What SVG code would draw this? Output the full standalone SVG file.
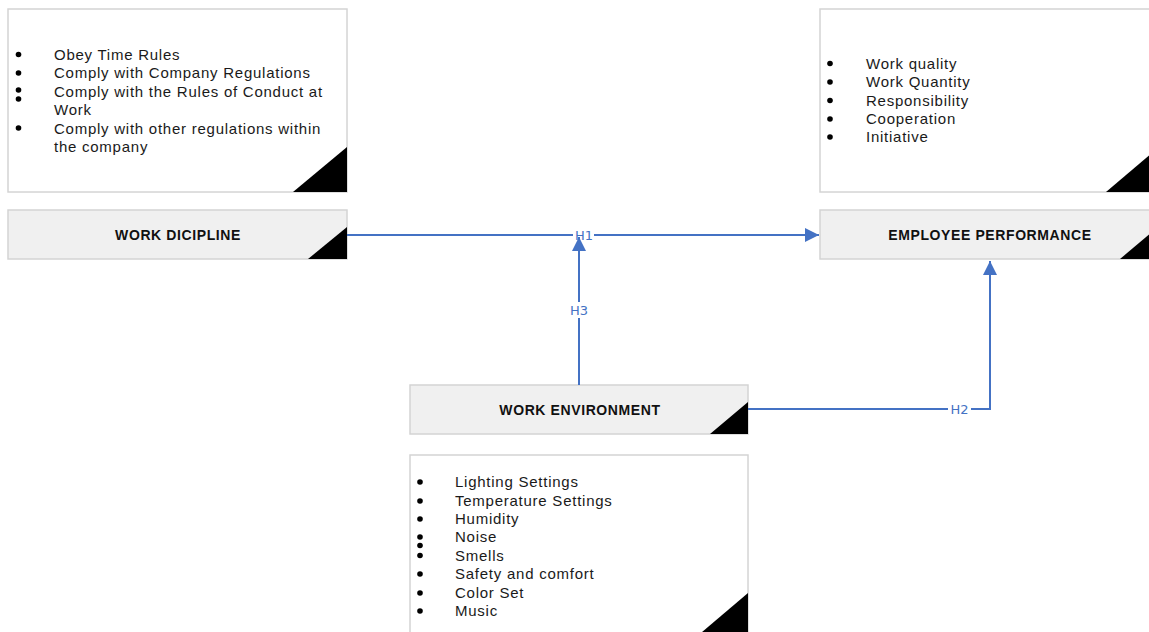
<svg xmlns="http://www.w3.org/2000/svg" width="1149" height="632" viewBox="0 0 1149 632">
<style>
.box{fill:#ffffff;stroke:#d4d4d4;stroke-width:1.5}
.hdr{fill:#f0f0f0;stroke:#d4d4d4;stroke-width:1.5}
.tri{fill:#000000}
.item{font-family:"Liberation Sans",Arial,sans-serif;font-size:15px;letter-spacing:0.75px;fill:#1a1a1a}
.title{font-family:"Liberation Sans",Arial,sans-serif;font-size:14px;font-weight:bold;letter-spacing:0.6px;fill:#111111;text-anchor:middle}
.dot{fill:#000000}
.conn{stroke:#4472c4;stroke-width:2;fill:none}
.lbl{font-family:"DejaVu Sans",Verdana,sans-serif;font-size:13px;fill:#4472c4;text-anchor:middle}
.lblbg{fill:#ffffff}
</style>
<defs>
<marker id="arr" viewBox="0 0 10 10" refX="10" refY="5" markerWidth="8" markerHeight="7" markerUnits="strokeWidth" orient="auto">
<path d="M0,0 L10,5 L0,10 Z" fill="#4472c4"/>
</marker>
</defs>

<g id="discipline-indicators">
<rect class="box" x="8" y="9" width="339" height="183"/>
<polygon class="tri" points="347,147 347,192 293,192"/>
<circle class="dot" cx="18.5" cy="54.5" r="2.8"/>
<circle class="dot" cx="18.5" cy="73" r="2.8"/>
<circle class="dot" cx="18.5" cy="90" r="2.8"/>
<circle class="dot" cx="18.5" cy="99" r="2.8"/>
<circle class="dot" cx="18.5" cy="128" r="2.8"/>
<text class="item" x="54" y="59.5">Obey Time Rules</text>
<text class="item" x="54" y="78">Comply with Company Regulations</text>
<text class="item" x="54" y="96.5">Comply with the Rules of Conduct at</text>
<text class="item" x="54" y="115">Work</text>
<text class="item" x="54" y="133.5">Comply with other regulations within</text>
<text class="item" x="54" y="152">the company</text>
</g>

<g id="work-discipline">
<rect class="hdr" x="8" y="210" width="339" height="49"/>
<polygon class="tri" points="347,227 347,259 308,259"/>
<text class="title" x="178" y="240">WORK DICIPLINE</text>
</g>

<g id="performance-indicators">
<rect class="box" x="820" y="9" width="339" height="183"/>
<polygon class="tri" points="1159,147 1159,192 1106,192"/>
<circle class="dot" cx="830" cy="63.5" r="2.8"/>
<circle class="dot" cx="830" cy="82" r="2.8"/>
<circle class="dot" cx="830" cy="100.5" r="2.8"/>
<circle class="dot" cx="830" cy="119" r="2.8"/>
<circle class="dot" cx="830" cy="137" r="2.8"/>
<text class="item" x="866" y="68.5">Work quality</text>
<text class="item" x="866" y="87">Work Quantity</text>
<text class="item" x="866" y="105.5">Responsibility</text>
<text class="item" x="866" y="124">Cooperation</text>
<text class="item" x="866" y="142">Initiative</text>
</g>

<g id="employee-performance">
<rect class="hdr" x="820" y="210" width="339" height="49"/>
<polygon class="tri" points="1159,226 1159,259 1120,259"/>
<text class="title" x="990" y="240">EMPLOYEE PERFORMANCE</text>
</g>

<g id="work-environment">
<rect class="hdr" x="410" y="385" width="338" height="49"/>
<polygon class="tri" points="748,402 748,434 710,434"/>
<text class="title" x="580" y="414.5">WORK ENVIRONMENT</text>
</g>

<g id="environment-indicators">
<rect class="box" x="410" y="455" width="338" height="183"/>
<polygon class="tri" points="748,593 748,638 695,638"/>
<circle class="dot" cx="420" cy="482" r="2.8"/>
<circle class="dot" cx="420" cy="501" r="2.8"/>
<circle class="dot" cx="420" cy="519" r="2.8"/>
<circle class="dot" cx="420" cy="537" r="2.8"/>
<circle class="dot" cx="420" cy="545.5" r="2.8"/>
<circle class="dot" cx="420" cy="555.5" r="2.8"/>
<circle class="dot" cx="420" cy="574" r="2.8"/>
<circle class="dot" cx="420" cy="593" r="2.8"/>
<circle class="dot" cx="420" cy="611" r="2.8"/>
<text class="item" x="455" y="487">Lighting Settings</text>
<text class="item" x="455" y="506">Temperature Settings</text>
<text class="item" x="455" y="524">Humidity</text>
<text class="item" x="455" y="542">Noise</text>
<text class="item" x="455" y="561">Smells</text>
<text class="item" x="455" y="579">Safety and comfort</text>
<text class="item" x="455" y="598">Color Set</text>
<text class="item" x="455" y="616">Music</text>
</g>

<g id="connectors">
<g id="h1">
<line class="conn" x1="347" y1="235" x2="819" y2="235" marker-end="url(#arr)"/>
<rect class="lblbg" x="573" y="228" width="21" height="14"/>
<text class="lbl" x="584" y="240">H1</text>
</g>
<g id="h3">
<line class="conn" x1="579" y1="385" x2="579" y2="237" marker-end="url(#arr)"/>
<rect class="lblbg" x="568" y="302" width="22" height="16"/>
<text class="lbl" x="579" y="315">H3</text>
</g>
<g id="h2">
<polyline class="conn" points="748,409 990,409 990,261" marker-end="url(#arr)"/>
<rect class="lblbg" x="948" y="402" width="23" height="14"/>
<text class="lbl" x="959.5" y="414">H2</text>
</g>
</g>
</svg>
